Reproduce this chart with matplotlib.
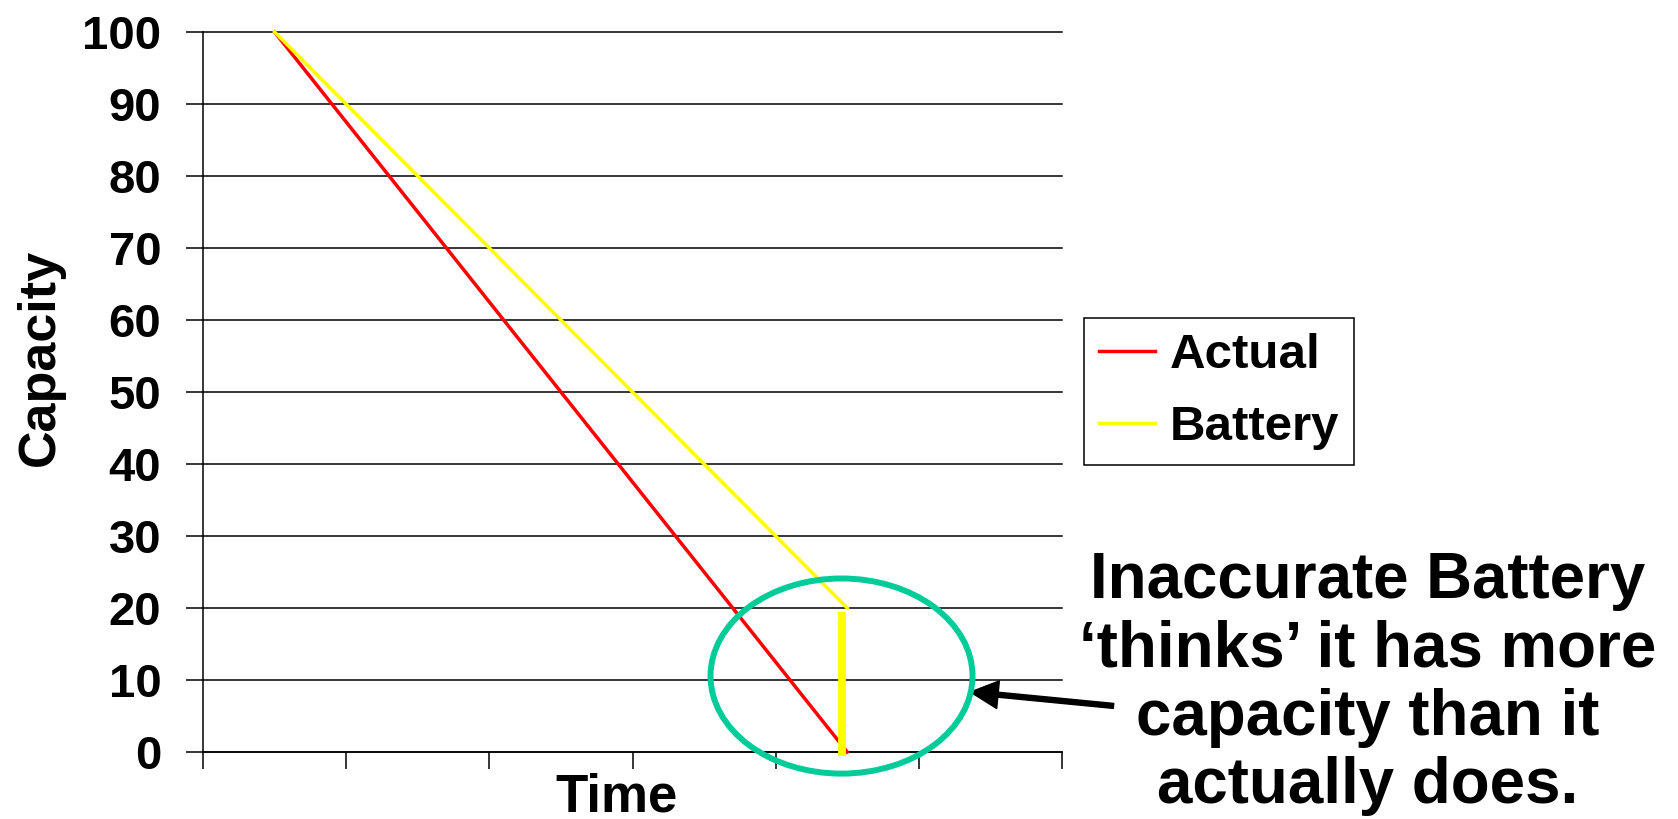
import numpy as np
import matplotlib
matplotlib.use("Agg")
import matplotlib.pyplot as plt
from matplotlib.patches import Ellipse

plt.rcParams['font.family'] = ['Liberation Sans', 'DejaVu Sans']
plt.rcParams['font.weight'] = 'bold'

# capacity readings per time step
steps = [0, 1, 2, 3, 4]
actual = [100, 75, 50, 25, 0]
battery = [100, 80, 60, 40, 20]
y_ticks = [0, 10, 20, 30, 40, 50, 60, 70, 80, 90, 100]

# drop of the battery's estimate once it hits empty
drop_x = 3.96
drop_top, drop_bottom = 19.5, -0.5

note = "Inaccurate Battery\n\u2018thinks\u2019 it has more\ncapacity than it\nactually does."

W, H = 1678, 819
fig = plt.figure(figsize=(W / 100, H / 100), dpi=100)
ax = fig.add_axes([203 / W, 1 - 752 / H, 859 / W, 720 / H])

ax.plot(steps, actual, color='#FF0000', lw=2.5, label='Actual', clip_on=False, zorder=3)
ax.plot(steps, battery, color='#FFFF00', lw=2.5, label='Battery', clip_on=False, zorder=3)
ax.plot([drop_x, drop_x], [drop_top, drop_bottom], color='#FFFF00', lw=5.6,
        solid_capstyle='butt', clip_on=False, zorder=4)

ax.set_xlim(-0.5, 5.5)
ax.set_ylim(0, 100)
ax.set_xticks(np.arange(-0.5, 6, 1))
ax.set_xticklabels([])
ax.set_yticks(y_ticks)
ax.yaxis.grid(True, color='black', lw=1.1)
for gl in ax.get_ygridlines():
    gl.set_clip_on(False)
ax.set_axisbelow(True)
ax.tick_params(direction='out', length=12, width=1.1, color='black', labelsize=34, pad=18)
for s in ['top', 'right']:
    ax.spines[s].set_visible(False)
for s in ['left', 'bottom']:
    ax.spines[s].set_linewidth(1.1)
    ax.spines[s].set_color('black')

# highlight ring around the end of the discharge
ring = Ellipse((3.96, 10.55), 1.83, 27.1, fill=False, edgecolor='#00CC99', lw=4.3,
               clip_on=False, zorder=5)
ax.add_patch(ring)
ax.annotate('', xy=(4.86, 8.33), xytext=(5.86, 6.4),
            arrowprops=dict(facecolor='black', edgecolor='black', width=3.6,
                            headwidth=20, headlength=20, shrink=0),
            annotation_clip=False)

leg = ax.legend(loc='upper left', bbox_to_anchor=(1084 / W, 1 - 318 / H),
                bbox_transform=fig.transFigure, borderaxespad=0, fancybox=False,
                edgecolor='black', framealpha=1, fontsize=35.5, handlelength=1.15,
                handletextpad=0.28, borderpad=0.3, labelspacing=0.55)
leg.get_frame().set_linewidth(1.1)

fig.text(40 / W, 1 - 357 / H, 'Capacity', rotation=90, ha='center', va='center',
         fontsize=37.5, fontweight='bold')
fig.text(617 / W, 1 - 811 / H, 'Time', ha='center', va='baseline',
         fontsize=38, fontweight='bold')
fig.text(1368 / W, 1 - 803 / H, note, ha='center', va='baseline', fontsize=45.8,
         fontweight='bold', linespacing=1.18, multialignment='center')

fig.savefig('out.png', dpi=100)
